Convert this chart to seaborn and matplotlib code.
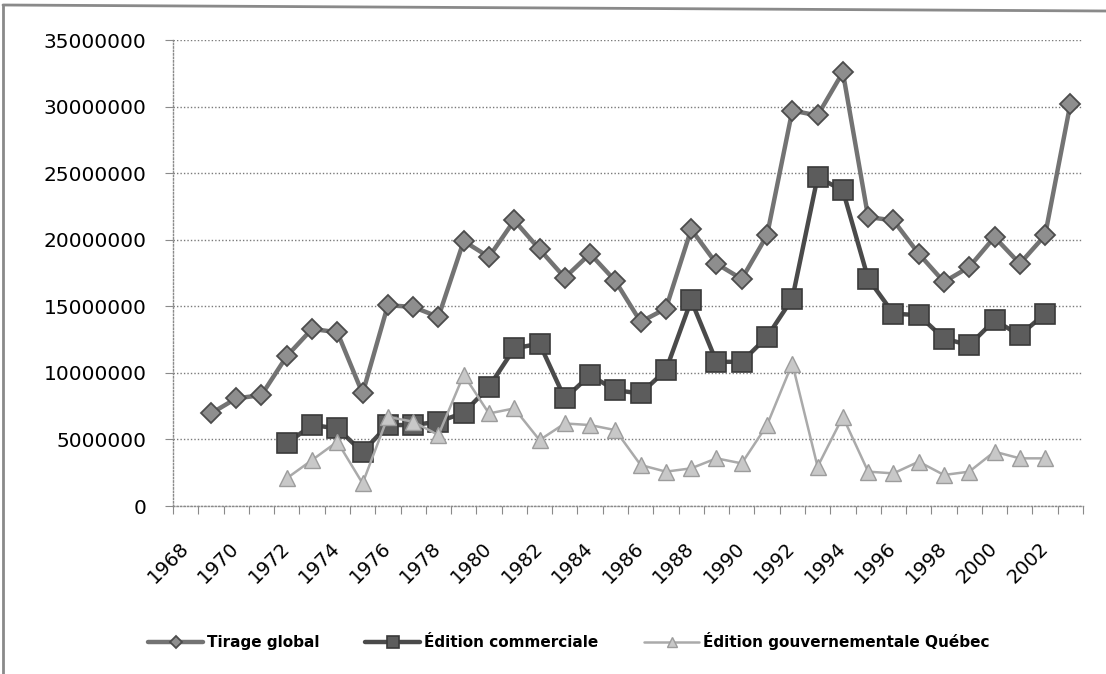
import numpy as np
import pandas as pd
import matplotlib
matplotlib.use("Agg")
import matplotlib.pyplot as plt
from matplotlib.lines import Line2D
from matplotlib.ticker import FixedLocator, FuncFormatter
import seaborn as sns

# Tirage annuel (exemplaires)
annees_global = list(range(1969, 2004))
tirage_global = [
    6950000, 8080000, 8330000, 11250000, 13300000, 13050000, 8450000, 15080000,
    14950000, 14200000, 19900000, 18700000, 21450000, 19280000, 17150000, 18950000,
    16900000, 13830000, 14830000, 20780000, 18200000, 17050000, 20330000, 29700000,
    29330000, 32580000, 21700000, 21450000, 18950000, 16830000, 17950000, 20200000,
    18200000, 20330000, 30200000,
]

annees_editions = list(range(1972, 2003))
edition_commerciale = [
    4700000, 6080000, 5830000, 4050000, 6080000, 6080000, 6330000, 7000000,
    8950000, 11830000, 12200000, 8080000, 9830000, 8700000, 8450000, 10200000,
    15450000, 10830000, 10830000, 12700000, 15580000, 24700000, 23700000, 17080000,
    14450000, 14330000, 12580000, 12080000, 13950000, 12830000, 14450000,
]
edition_gouv_quebec = [
    2080000, 3450000, 4830000, 1700000, 6700000, 6330000, 5330000, 9850000,
    6950000, 7330000, 4950000, 6200000, 6080000, 5700000, 3080000, 2580000,
    2830000, 3580000, 3200000, 6080000, 10700000, 2950000, 6700000, 2580000,
    2450000, 3330000, 2330000, 2580000, 4080000, 3580000, 3580000,
]

etiquettes_annees = list(range(1968, 2003, 2))
graduations_y = list(range(0, 35000001, 5000000))

noms_series = ["Tirage global", "Édition commerciale", "Édition gouvernementale Québec"]

sns.set_theme(style="white")
plt.rcParams["font.family"] = ["DejaVu Sans"]
plt.rcParams["text.color"] = "black"

W, H = 1106, 674
fig = plt.figure(figsize=(W / 100, H / 100), dpi=100)
fig.patch.set_facecolor("white")
ax = fig.add_axes([173 / W, 1 - 506 / H, 910 / W, 466 / H])
ax.set_facecolor("white")

df_global = pd.DataFrame({"annee": annees_global, "valeur": tirage_global})
df_com = pd.DataFrame({"annee": annees_editions, "valeur": edition_commerciale})
df_gouv = pd.DataFrame({"annee": annees_editions, "valeur": edition_gouv_quebec})

sns.lineplot(data=df_global, x="annee", y="valeur", ax=ax, label=noms_series[0],
             color="#737373", lw=3.2, marker="D", markersize=10,
             markerfacecolor="#8e8e8e", markeredgecolor="#4c4c4c", markeredgewidth=1.3,
             zorder=3)
sns.lineplot(data=df_com, x="annee", y="valeur", ax=ax, label=noms_series[1],
             color="#4a4a4a", lw=3.2, marker="s", markersize=14,
             markerfacecolor="#5c5c5c", markeredgecolor="#3a3a3a", markeredgewidth=1.2,
             zorder=4)
sns.lineplot(data=df_gouv, x="annee", y="valeur", ax=ax, label=noms_series[2],
             color="#aaaaaa", lw=1.8, marker="^", markersize=12,
             markerfacecolor="#c8c8c8", markeredgecolor="#9c9c9c", markeredgewidth=1.0,
             zorder=5)

# Axes
ax.set_xlim(1967.5, 2003.5)
ax.set_ylim(0, 35000000)
ax.set_xlabel("")
ax.set_ylabel("")

ax.xaxis.set_major_locator(FixedLocator(etiquettes_annees))
ax.xaxis.set_minor_locator(FixedLocator(np.arange(1967.5, 2004, 1.0)))
ax.set_xticks(etiquettes_annees)
ax.set_xticklabels([str(a) for a in etiquettes_annees])
ax.tick_params(axis="x", which="major", length=0, pad=28.5, labelsize=14, labelcolor="black")
ax.tick_params(axis="x", which="minor", length=6, width=0.8, color="#8a8a8a", direction="out", bottom=True)
for lab in ax.get_xticklabels():
    lab.set_rotation(45)
    lab.set_rotation_mode("anchor")
    lab.set_ha("right")
    lab.set_va("center")

ax.yaxis.set_major_locator(FixedLocator(graduations_y))
ax.yaxis.set_major_formatter(FuncFormatter(lambda v, p: f"{int(round(v))}"))
ax.tick_params(axis="y", which="major", length=6, width=0.8, color="#8a8a8a",
               direction="out", left=True, pad=13, labelsize=14.5, labelcolor="black")

ax.grid(axis="y", color="#7a7a7a", linestyle=(0, (1, 1.5)), lw=1.0)
ax.grid(axis="x", visible=False)
ax.set_axisbelow(True)

for side in ("top", "right"):
    ax.spines[side].set_visible(False)
for side in ("left", "bottom"):
    ax.spines[side].set_color("#8a8a8a")
    ax.spines[side].set_linestyle((0, (1, 1.5)))
    ax.spines[side].set_linewidth(1.0)

# Legend below the plot
handles, labels = ax.get_legend_handles_labels()
ax.get_legend().remove()
fig.legend(handles, labels, loc="center", bbox_to_anchor=(569 / W, 1 - 641 / H),
           ncol=3, frameon=False, markerscale=0.6, handlelength=3.6,
           handletextpad=0.25, columnspacing=3.0, labelcolor="black",
           prop={"weight": "bold", "size": 11})

# Outer frame
fig.add_artist(Line2D([3 / W, 1.0], [1 - 5 / H, 1 - 11 / H], transform=fig.transFigure,
                      color="#8a8a8a", lw=2.0))
fig.add_artist(Line2D([3 / W, 3 / W], [1 - 5 / H, 0.0], transform=fig.transFigure,
                      color="#8a8a8a", lw=2.0))

fig.savefig("out.png", dpi=100)
